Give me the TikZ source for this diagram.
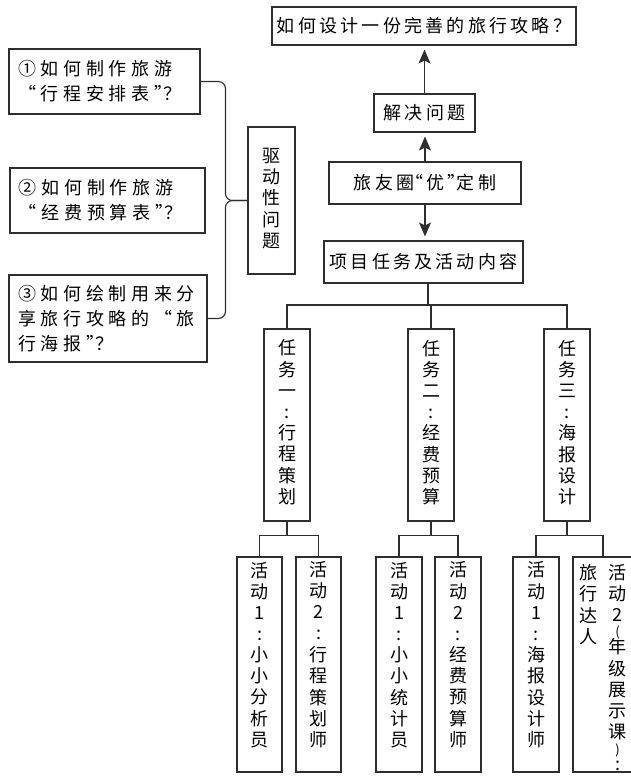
\documentclass[tikz,border=0pt]{standalone}
\usepackage{fontspec}
\setmainfont{Noto Sans CJK SC}
\newfontfamily\cjkw[LetterSpace=18]{Noto Sans CJK SC}
\newfontfamily\cjkq[LetterSpace=26]{Noto Sans CJK SC}
\usepackage{tikz}
\usetikzlibrary{arrows.meta}
\definecolor{ink}{HTML}{2E2E2E}
\newcommand{\vcol}[2][c]{\begin{tabular}[#1]{@{}c@{}}#2\end{tabular}}
\newcommand{\actcol}[1]{\raisebox{7pt}[\height][\depth]{\vcol{#1}}}
% narrow quotes
\newcommand{\qo}{\kern-9pt“}
\newcommand{\qc}{”\kern-9pt}
\newcommand{\smp}[1]{{\fontsize{13}{21}\selectfont#1}}
\tikzset{
  hbox/.style     = {draw=ink,line width=1.1pt,inner sep=0pt,font=\cjkw\fontsize{18}{25}\selectfont},
  qbox/.style     = {draw=ink,line width=1.1pt,inner xsep=9pt,inner ysep=0pt,align=left,font=\cjkq\fontsize{18}{25}\selectfont},
  colbox/.style   = {draw=ink,line width=1.1pt,inner sep=0pt,font=\fontsize{18}{21}\selectfont},
  flowarr/.style  = {-{Stealth[length=14pt,width=12pt,inset=3pt]},ink,line width=1.2pt,shorten >=4pt},
  treeline/.style = {ink,line width=1.1pt}
}
\newcommand{\splitto}[3]{%
  \draw[treeline] (#1.south) -- ++(0,14) coordinate (#1-f);
  \draw[treeline] (#2.north) |- (#1-f) -| (#3.north);
}

\begin{document}
\begin{tikzpicture}[x=1pt,y=-1pt]
  \useasboundingbox (0,0) rectangle (630,777);
  % main chain
  \node[hbox,minimum width=304,minimum height=38] (goal)    at (424,26)    {如何设计一份完善的旅行攻略？};
  \node[hbox,minimum width=101,minimum height=38] (solve)   at (424.5,113) {解决问题};
  \node[hbox,minimum width=192,minimum height=42] (circ)    at (425,183)   {旅友圈\qo 优\qc 定制};
  \node[hbox,minimum width=199,minimum height=42] (content) at (423.5,262) {项目任务及活动内容};
  \draw[flowarr] (solve.north) -- (solve.north |- goal.south);
  \draw[flowarr] (circ.north) -- (circ.north |- solve.south);
  \draw[flowarr] (circ.south) -- (circ.south |- content.north);
  % driving questions
  \node[qbox,text width=173,minimum height=65] (q1) at (104.5,81.5) {①如何制作旅游\\\kern9pt\qo 行程安排表\qc ？};
  \node[qbox,text width=177,minimum height=65] (q2) at (107.5,200.5) {②如何制作旅游\\\kern9pt\qo 经费预算表\qc ？};
  \node[qbox,text width=180,minimum height=87] (q3) at (108,318.5) {③如何绘制用来分\\享旅行攻略的“旅\\行海报\qc ？};
  \node[colbox,minimum width=47,minimum height=147] (drive) at (271.5,200.5) {\vcol{驱\\动\\性\\问\\题}};
  \coordinate (bx) at ([xshift=-22pt]drive.west);
  \draw[treeline,rounded corners=7pt] (q1.east) -| (bx) -- (drive.west);
  \draw[treeline,rounded corners=7pt] (q3.east) -| (bx) -- (drive.west);
  % tasks
  \node[colbox,minimum width=46,minimum height=192] (task1) at (287,425) {\vcol{任\\务\\一\\:\\行\\程\\策\\划}};
  \node[colbox,minimum width=46,minimum height=192] (task2) at (431,425) {\vcol{任\\务\\二\\:\\经\\费\\预\\算}};
  \node[colbox,minimum width=46,minimum height=192] (task3) at (567,425) {\vcol{任\\务\\三\\:\\海\\报\\设\\计}};
  \coordinate (hub) at (428,305);
  \draw[treeline] (content.south -| hub) -- (hub);
  \draw[treeline] (task1.north) |- (hub) -| (task3.north);
  \draw[treeline] (task2.north) -- (task2.north |- hub);
  % activities
  \node[colbox,minimum width=45,minimum height=215] (a11) at (259.5,664.5) {\actcol{活\\动\\1\\:\\小\\小\\分\\析\\员}};
  \node[colbox,minimum width=45,minimum height=215] (a12) at (318.5,664.5) {\actcol{活\\动\\2\\:\\行\\程\\策\\划\\师}};
  \node[colbox,minimum width=46,minimum height=215] (a21) at (399,664.5)   {\actcol{活\\动\\1\\:\\小\\小\\统\\计\\员}};
  \node[colbox,minimum width=46,minimum height=215] (a22) at (458,664.5)   {\actcol{活\\动\\2\\:\\经\\费\\预\\算\\师}};
  \node[colbox,minimum width=46,minimum height=215] (a31) at (536,664.5)   {\actcol{活\\动\\1\\:\\海\\报\\设\\计\\师}};
  \node[colbox,minimum width=60,minimum height=215] (a32) at (603,664.5)
    {\raisebox{-6pt}[\height][\depth]{\vcol[t]{旅\\行\\达\\人}\hspace{11pt}\vcol[t]{活\\动\\2\\[-6pt]\smp{(}\\[-4pt]年\\级\\展\\示\\课\\[-5pt]\smp{)}\\[-5pt]:}}};
  \splitto{task1}{a11}{a12}
  \splitto{task2}{a21}{a22}
  \splitto{task3}{a31}{a32}
\end{tikzpicture}
\end{document}
